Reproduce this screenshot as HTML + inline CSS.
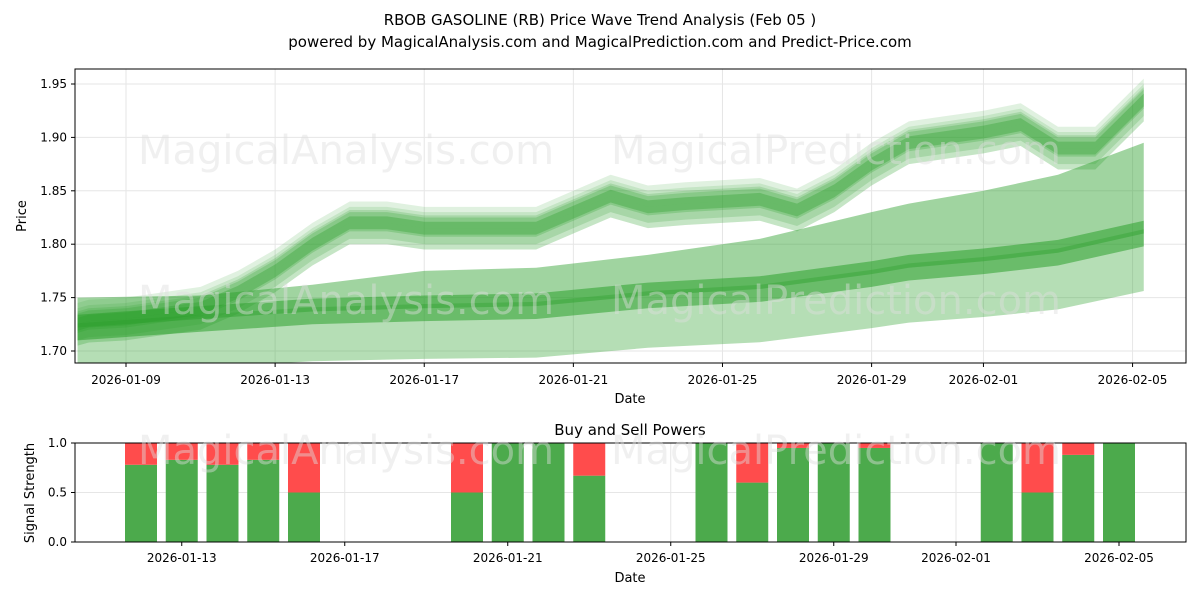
<!DOCTYPE html>
<html><head><meta charset="utf-8"><style>
body{margin:0;background:#fff;font-family:"Liberation Sans","DejaVu Sans",sans-serif}
svg text{font-family:"DejaVu Sans","Liberation Sans",sans-serif}
</style></head><body>
<svg id="c" width="1200" height="600" xmlns="http://www.w3.org/2000/svg">
<text x="600" y="25" text-anchor="middle" font-size="15">RBOB GASOLINE (RB) Price Wave Trend Analysis (Feb 05 )</text>
<text x="600" y="47" text-anchor="middle" font-size="15">powered by MagicalAnalysis.com and MagicalPrediction.com and Predict-Price.com</text>
<g id="topg"></g><g id="botg"></g>
</svg>
<script>
// Top chart data (day offset from 2026-01-09)
const waveDays=[-1.3,-1,0,1,2,3,4,5,6,7,8,9,10,11,12,13,14,15,16,17,18,19,20,21,22,23,24,25,26,27.3];
const waveVals=[1.725,1.728,1.73,1.735,1.74,1.755,1.775,1.80,1.82,1.82,1.815,1.815,1.815,1.815,1.83,1.845,1.835,1.838,1.84,1.842,1.832,1.85,1.875,1.895,1.90,1.905,1.912,1.89,1.89,1.935];
const trendDays=[-1.3,2,5,8,11,14,17,20,21,23,25,27.3];
const trendMid=[1.722,1.73,1.737,1.74,1.742,1.752,1.758,1.772,1.778,1.784,1.792,1.81];
const trendUpper=[1.75,1.752,1.762,1.775,1.778,1.79,1.805,1.83,1.838,1.85,1.865,1.895];
const yTicks=[1.70,1.75,1.80,1.85,1.90,1.95];
const xTickLabels=["2026-01-09","2026-01-13","2026-01-17","2026-01-21","2026-01-25","2026-01-29","2026-02-01","2026-02-05"];
const xTickDays=[0,4,8,12,16,20,23,27];
// Bottom chart data (day offset from 2026-01-09)
const barDays=[3,4,5,6,7,11,12,13,14,17,18,19,20,21,24,25,26,27];
const buyVals=[0.78,0.83,0.78,0.83,0.5,0.5,1.0,1.0,0.67,1.0,0.6,0.95,1.0,0.95,1.0,0.5,0.88,1.0];
const bTickLabels=["2026-01-13","2026-01-17","2026-01-21","2026-01-25","2026-01-29","2026-02-01","2026-02-05"];
const bTickDays=[4,8,12,16,20,23,27];
const bYTicks=[0.0,0.5,1.0];

const NS="http://www.w3.org/2000/svg";
function mk(p,t,a){const e=document.createElementNS(NS,t);for(const k in a)e.setAttribute(k,a[k]);p.appendChild(e);return e;}
const X=d=>126+d*37.28, Y=v=>351-(v-1.70)*1068;
const BX=d=>141+(d-3)*40.75, BY=v=>542-v*99;
const topG=document.getElementById('topg'), botG=document.getElementById('botg');

xTickDays.forEach((d,i)=>{const l=mk(topG,'line',{x1:X(d),x2:X(d),y1:69,y2:363,stroke:'#e6e6e6'});

const t=mk(topG,'text',{x:X(d),y:384,'text-anchor':'middle','font-size':12});t.textContent=xTickLabels[i];

mk(topG,'line',{x1:X(d),x2:X(d),y1:363,y2:367,stroke:'#000'});});
yTicks.forEach(v=>{const l=mk(topG,'line',{x1:75,x2:1186,y1:Y(v),y2:Y(v),stroke:'#e6e6e6'});

const t=mk(topG,'text',{x:67,y:Y(v)+4,'text-anchor':'end','font-size':12});t.textContent=v.toFixed(2);

mk(topG,'line',{x1:71,x2:75,y1:Y(v),y2:Y(v),stroke:'#000'});});

const cp=mk(topG,'clipPath',{id:'cpt'});mk(cp,'rect',{x:75,y:69,width:1111,height:294});
const g=mk(topG,'g',{'clip-path':'url(#cpt)'});
function band(days,up,lo,op,name){let s='';days.forEach((d,i)=>s+=(i?'L':'M')+X(d)+','+Y(up[i]));
for(let i=days.length-1;i>=0;i--)s+='L'+X(days[i])+','+Y(lo[i]);
const p=mk(g,'path',{d:s+'Z',fill:'#2ca02c','fill-opacity':op});
}
band(trendDays,trendMid.map(v=>v+0.004),trendMid.map((v,i)=>v-0.045-i*0.0008),0.35,'trend-band-lower');
band(trendDays,trendUpper,trendMid,0.45,'trend-band-upper');
band(trendDays,trendMid.map(v=>v+0.012),trendMid.map(v=>v-0.012),0.55,'trend-band-mid');
const offs=[[0.02,-0.02,0.15],[0.012,-0.015,0.2],[0.01,-0.008,0.25],[0.006,-0.006,0.35],[0.015,0.0,0.15],[0.0,-0.02,0.15]];
offs.forEach(o=>band(waveDays,waveVals.map(v=>v+o[0]),waveVals.map(v=>v+o[1]),o[2],'price-wave-band'));

mk(topG,'rect',{x:75,y:69,width:1111,height:294,fill:'none',stroke:'#000'});
[[346,150],[836,150],[346,300],[836,300]].forEach((p,i)=>{const t=mk(topG,'text',{x:p[0],y:p[1]+14,'text-anchor':'middle','font-size':40,fill:'#ddd','fill-opacity':0.45});
t.textContent=i%2?'MagicalPrediction.com':'MagicalAnalysis.com';});
let tx=mk(topG,'text',{x:630,y:403,'text-anchor':'middle','font-size':13});tx.textContent='Date';
tx=mk(topG,'text',{x:26,y:216,'text-anchor':'middle','font-size':13,transform:'rotate(-90 26 216)'});tx.textContent='Price';

tx=mk(botG,'text',{x:630,y:435,'text-anchor':'middle','font-size':15});tx.textContent='Buy and Sell Powers';
bTickDays.forEach((d,i)=>{const l=mk(botG,'line',{x1:BX(d),x2:BX(d),y1:443,y2:542,stroke:'#e6e6e6'});

const tt=mk(botG,'text',{x:BX(d),y:562,'text-anchor':'middle','font-size':12});tt.textContent=bTickLabels[i];

mk(botG,'line',{x1:BX(d),x2:BX(d),y1:542,y2:546,stroke:'#000'});});
bYTicks.forEach(v=>{const l=mk(botG,'line',{x1:75,x2:1186,y1:BY(v),y2:BY(v),stroke:'#e6e6e6'});

const tt=mk(botG,'text',{x:67,y:BY(v)+4,'text-anchor':'end','font-size':12});tt.textContent=v.toFixed(1);

mk(botG,'line',{x1:71,x2:75,y1:BY(v),y2:BY(v),stroke:'#000'});});
barDays.forEach((d,i)=>{const b=buyVals[i];
const r=mk(botG,'rect',{x:BX(d)-16,y:BY(b),width:32,height:BY(0)-BY(b),fill:'#4caa4c'});

const s=mk(botG,'rect',{x:BX(d)-16,y:BY(1),width:32,height:BY(b)-BY(1),fill:'#ff4c4c'});
});
mk(botG,'rect',{x:75,y:443,width:1111,height:99,fill:'none',stroke:'#000'});
[[346,450],[836,450]].forEach((p,i)=>{const w=mk(botG,'text',{x:p[0],y:p[1]+14,'text-anchor':'middle','font-size':40,fill:'#ddd','fill-opacity':0.45});
w.textContent=i?'MagicalPrediction.com':'MagicalAnalysis.com';});
tx=mk(botG,'text',{x:630,y:582,'text-anchor':'middle','font-size':13});tx.textContent='Date';
tx=mk(botG,'text',{x:34,y:493,'text-anchor':'middle','font-size':13,transform:'rotate(-90 34 493)'});tx.textContent='Signal Strength';
</script>
</body></html>
